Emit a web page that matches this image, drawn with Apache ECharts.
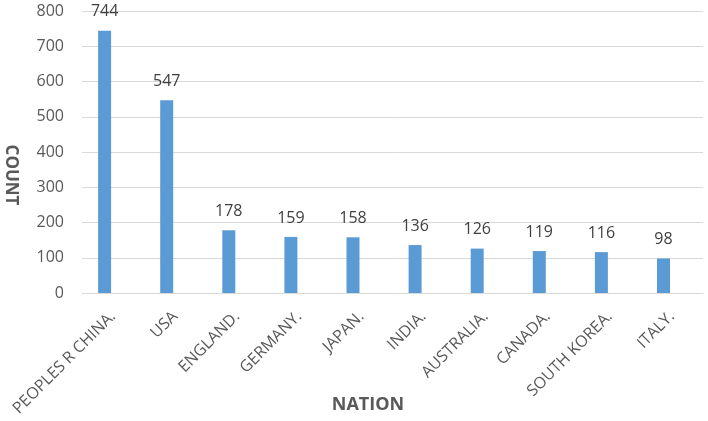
<!DOCTYPE html>
<html><head><meta charset="utf-8">
<script src="https://cdn.jsdelivr.net/npm/echarts@6/dist/echarts.min.js"></script>
<style>html,body{margin:0;padding:0;background:#fff}#c{width:708px;height:421px}</style>
</head><body><div id="c"></div>
<script>
const categories = ["PEOPLES R CHINA.","USA","ENGLAND.","GERMANY.","JAPAN.","INDIA.","AUSTRALIA.","CANADA.","SOUTH KOREA.","ITALY."];
const counts = [744,547,178,159,158,136,126,119,116,98];
const yTicks = {min:0,max:800,interval:100};
const xTitle = 'NATION';
const yTitle = 'COUNT';
const chart = echarts.init(document.getElementById('c'));
const font = '"Open Sans", sans-serif';
const nameStyle = {fontWeight:'bold',fontSize:18,fill:'#595959',fontFamily:font,align:'center',verticalAlign:'middle'};
chart.setOption({
  animation:false,
  grid:{left:82,right:5,top:11,bottom:128,outerBoundsMode:'none',containLabel:false},
  xAxis:{type:'category',data:categories,
    axisLine:{lineStyle:{color:'#d9d9d9'}},axisTick:{show:false},
    axisLabel:{rotate:45,color:'#595959',fontSize:16,fontFamily:font,margin:21,interval:0}},
  yAxis:{type:'value',min:yTicks.min,max:yTicks.max,interval:yTicks.interval,
    splitLine:{lineStyle:{color:'#d9d9d9'}},axisLine:{show:false},axisTick:{show:false},
    axisLabel:{color:'#595959',fontSize:16,fontFamily:font,margin:18}},
  graphic:[
    {type:'text',x:368,y:405,style:Object.assign({text:xTitle},nameStyle)},
    {type:'text',x:11,y:175,rotation:-Math.PI/2,style:Object.assign({text:yTitle},nameStyle,{fontSize:17})}
  ],
  series:[
    {type:'bar',data:counts,barWidth:13,barGap:'30%',itemStyle:{color:'#5b9bd5'},
     label:{show:true,position:'top',distance:11,color:'#404040',fontSize:16,fontFamily:font}},
    {type:'bar',data:counts.map(()=>null),barWidth:13}
  ]
});
</script></body></html>
